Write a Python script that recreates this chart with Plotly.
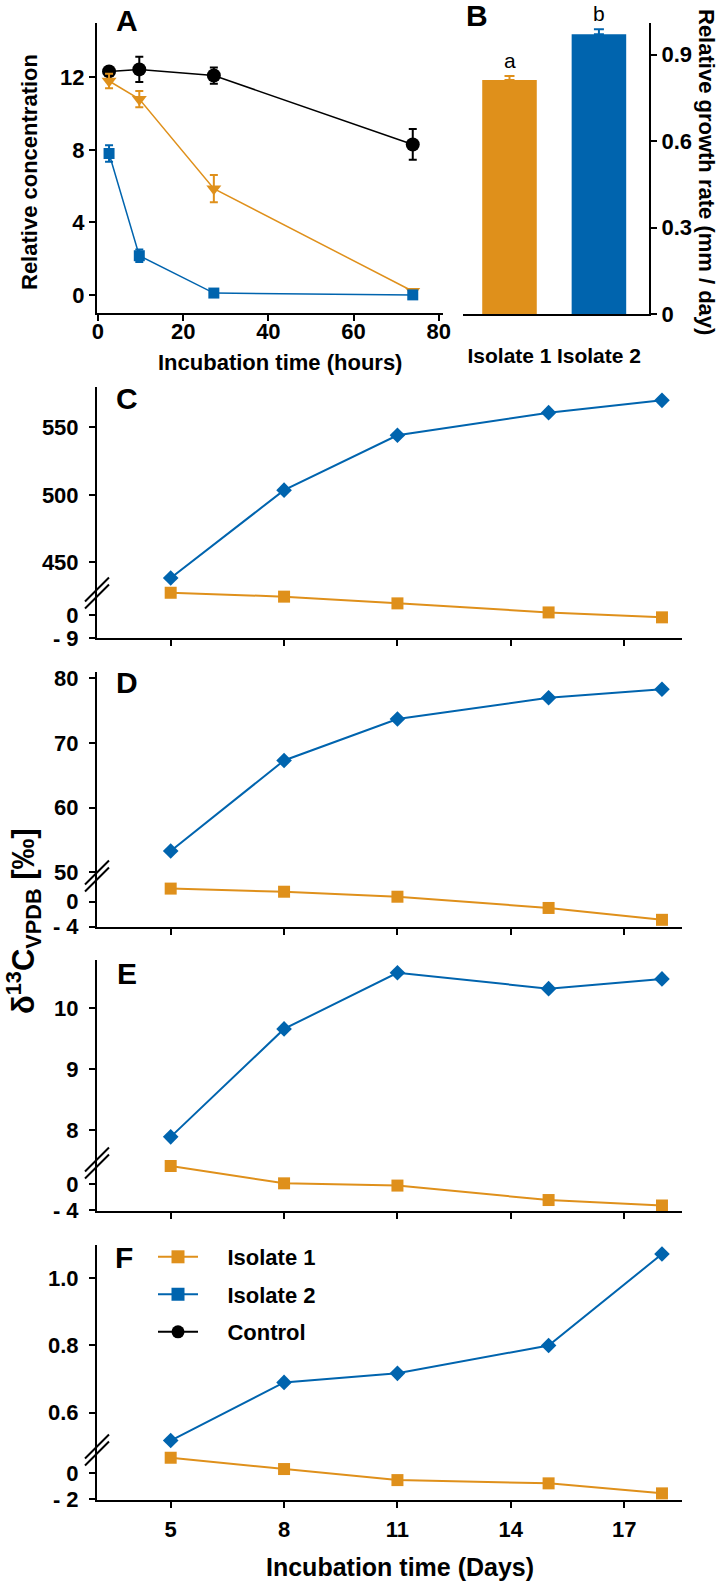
import plotly.graph_objects as go

# --- dades ---
hours = [2.6, 9.7, 27.2, 73.9]
control_a = [12.33, 12.44, 12.1, 8.3]
control_a_err = [0.1, 0.7, 0.45, 0.85]
iso1_a = [11.8, 10.8, 5.86, 0.2]
iso1_a_err = [0.4, 0.45, 0.75, 0.1]
iso2_a = [7.8, 2.16, 0.1, 0.0]
iso2_a_err = [0.45, 0.35, 0.1, 0.1]

isolates = ["Isolate 1", "Isolate 2"]
growth = [0.812, 0.971]
growth_err = [0.014, 0.017]
growth_letters = ["a", "b"]

days = [5, 8, 11, 15, 18]
iso2_c = [438.4, 503.5, 544.1, 560.9, 570.0]
iso1_c = [8.6, 7.1, 4.5, 1.0, -0.9]
iso2_d = [53.3, 67.3, 73.7, 77.0, 78.3]
iso1_d = [2.1, 1.6, 0.8, -1.0, -2.9]
iso2_e = [7.89, 9.66, 10.58, 10.32, 10.48]
iso1_e = [2.85, 0.15, -0.2, -2.45, -3.3]
iso2_f = [0.517, 0.690, 0.717, 0.800, 1.072]
iso1_f = [1.2, 0.33, -0.52, -0.77, -1.54]

ORANGE = "#DF901B"
BLUE = "#0064AE"
FONT = "Liberation Sans, Arial, sans-serif"
W, H = 718, 1584


def px(x):
    return x / W


def py(y):
    return 1 - y / H


tickfont = dict(size=22, family=FONT, color="black", weight="bold")
axis_style = dict(showline=True, linecolor="black", linewidth=2, ticks="outside",
                  ticklen=6, tickwidth=2, tickcolor="black", showgrid=False,
                  zeroline=False, tickfont=tickfont, automargin=False)

fig = go.Figure()

# --- panell A ---
for y, e, col, sym, size in [(control_a, control_a_err, "black", "circle", 14),
                             (iso1_a, iso1_a_err, ORANGE, "triangle-down", 13),
                             (iso2_a, iso2_a_err, BLUE, "square", 11)]:
    fig.add_trace(go.Scatter(
        x=hours, y=y, mode="lines+markers", showlegend=False,
        line=dict(color=col, width=1.5),
        marker=dict(color=col, symbol=sym, size=size),
        error_y=dict(type="data", array=e, color=col, thickness=2, width=4),
        xaxis="x", yaxis="y", cliponaxis=False))

# --- panell B ---
for cat, val, err, col in zip(isolates, growth, growth_err, [ORANGE, BLUE]):
    fig.add_trace(go.Bar(
        x=[cat], y=[val], marker=dict(color=col, line=dict(width=0)),
        width=0.61, showlegend=False, xaxis="x2", yaxis="y2",
        error_y=dict(type="data", array=[err], arrayminus=[0], symmetric=False,
                     color=col, thickness=2, width=5)))

# --- panells C-F (eix trencat) ---
panels = [(iso2_c, iso1_c), (iso2_d, iso1_d), (iso2_e, iso1_e), (iso2_f, iso1_f)]
for i, (hi, lo) in enumerate(panels):
    xa = "x%d" % (i + 3)
    y_lo = "y%d" % (2 * i + 3)
    y_hi = "y%d" % (2 * i + 4)
    fig.add_trace(go.Scatter(x=days, y=hi, mode="lines+markers", showlegend=False,
                             line=dict(color=BLUE, width=2),
                             marker=dict(color=BLUE, symbol="diamond", size=12),
                             xaxis=xa, yaxis=y_hi, cliponaxis=False))
    fig.add_trace(go.Scatter(x=days, y=lo, mode="lines+markers", showlegend=False,
                             line=dict(color=ORANGE, width=2),
                             marker=dict(color=ORANGE, symbol="square", size=12),
                             xaxis=xa, yaxis=y_lo, cliponaxis=False))

# llegenda (panell F)
leg_items = [("Isolate 1", ORANGE, "square", "legend"),
             ("Isolate 2", BLUE, "square", "legend2"),
             ("Control", "black", "circle", "legend3")]
for name, col, sym, leg in leg_items:
    fig.add_trace(go.Scatter(x=[None], y=[None], mode="lines+markers",
                             name="\u00a0\u00a0\u00a0\u00a0" + name,
                             line=dict(color=col, width=2),
                             marker=dict(color=col, symbol=sym, size=13),
                             xaxis="x6", yaxis="y10", legend=leg))

layout = dict(
    width=W, height=H, margin=dict(l=0, r=0, t=0, b=0),
    paper_bgcolor="white", plot_bgcolor="rgba(0,0,0,0)",
    font=dict(family=FONT, color="black"),
    barmode="overlay",
    xaxis=dict(domain=[px(97), px(443)], range=[-0.23, 81], anchor="y",
               tickvals=[0, 20, 40, 60, 80], ticklabelstandoff=-8, **axis_style),
    yaxis=dict(domain=[py(313), py(23)], range=[-1, 15], anchor="x",
               tickvals=[0, 4, 8, 12], **axis_style),
    xaxis2=dict(domain=[px(463), px(649)], range=[-0.52, 1.56], anchor="y2",
                type="category", showline=True, linecolor="black", linewidth=2,
                ticks="", showgrid=False, ticklabelstandoff=22, tickangle=0,
                automargin=False,
                tickfont=dict(size=21, family=FONT, color="black", weight="bold")),
    yaxis2=dict(domain=[py(314), py(23)], range=[0, 1.01], anchor="x2", side="right",
                tickvals=[0, 0.3, 0.6, 0.9], ticktext=["0", "0.3", "0.6", "0.9"],
                **axis_style),
)

# posicions dels panells C-F: (y eix x, [domini inferior], [domini superior], rang inf, rang sup, ticks)
specs = [
    (638.3, (585, 638.3), (387, 600), [-9, 11.6], [422.1, 579.9],
     [-9, 0], ["- 9", "0"], [450, 500, 550]),
    (927, (868, 927), (671.7, 884), [-4.05, 5.4], [48.2, 81.02],
     [-4, 0], ["- 4", "0"], [50, 60, 70, 80]),
    (1210.7, (1155, 1210.7), (960, 1171), [-4.11, 4.56], [7.33, 10.79],
     [-4, 0], ["- 4", "0"], [8, 9, 10]),
    (1500, (1442, 1500), (1245, 1458), [-2.05, 2.41], [0.465, 1.099],
     [-2, 0], ["- 2", "0"], [0.6, 0.8, 1.0]),
]
for i, (xb, lo_dom, hi_dom, lo_rng, hi_rng, lo_tv, lo_tt, hi_tv) in enumerate(specs):
    n = i + 3
    layout["xaxis%d" % n] = dict(domain=[px(97), px(682)], range=[3.05, 18.53],
                                anchor="y%d" % (2 * i + 3), tickvals=[5, 8, 11, 14, 17],
                                showticklabels=(i == 3), ticklabelstandoff=3, **axis_style)
    layout["yaxis%d" % (2 * i + 3)] = dict(domain=[py(lo_dom[1]), py(lo_dom[0])],
                                          range=lo_rng, anchor="x%d" % n,
                                          tickvals=lo_tv, ticktext=lo_tt,
                                          ticklabelstandoff=6, **axis_style)
    hi_tt = ["%.1f" % v for v in hi_tv] if i == 3 else [str(v) for v in hi_tv]
    layout["yaxis%d" % (2 * i + 4)] = dict(domain=[py(hi_dom[1]), py(hi_dom[0])],
                                          range=hi_rng, anchor="x%d" % n,
                                          tickvals=hi_tv, ticktext=hi_tt,
                                          ticklabelstandoff=6, **axis_style)

legfont = dict(size=22, family=FONT, color="black", weight="bold")
for j, leg in enumerate(["legend", "legend2", "legend3"]):
    layout[leg] = dict(x=px(153), y=py(1257 + 37.5 * j), xanchor="left", yanchor="middle",
                       bgcolor="rgba(0,0,0,0)", font=legfont, itemwidth=40)

# marques de trencament
shapes = []
for yc in [593, 876, 1163, 1450]:
    for dy in (-3.5, 3.5):
        shapes.append(dict(type="line", xref="paper", yref="paper",
                           x0=px(85), y0=py(yc + dy + 12), x1=px(109), y1=py(yc + dy - 12),
                           line=dict(color="black", width=2)))
layout["shapes"] = shapes

ann = []
for letter, x, y in [("A", 127, 20), ("B", 477, 15), ("C", 127, 398), ("D", 127, 682),
                     ("E", 127, 973), ("F", 124, 1257)]:
    ann.append(dict(text=letter, x=px(x), y=py(y), xref="paper", yref="paper",
                    xanchor="center", yanchor="middle",
                    showarrow=False, font=dict(size=30, family=FONT, weight="bold")))
titles = [
    ("Incubation time (hours)", 280, 362, 0, 22),
    ("Relative concentration", 30, 172, -90, 22),
    ("Relative growth rate (mm / day)", 706, 172, 90, 22),
    ("Incubation time (Days)", 400, 1567, 0, 25),
    ("δ<sup>13</sup>C<sub>VPDB</sub> [‰]", 23, 921, -90, 31),
]
for text, x, y, ang, size in titles:
    ann.append(dict(text=text, x=px(x), y=py(y), xref="paper", yref="paper",
                    xanchor="center", yanchor="middle",
                    showarrow=False, textangle=ang,
                    font=dict(size=size, family=FONT, weight="bold")))
for cat, val, err, lab in zip(isolates, growth, growth_err, growth_letters):
    ann.append(dict(text=lab, x=cat, y=val + err, xref="x2", yref="y2", yanchor="bottom",
                    xanchor="center", yshift=2, showarrow=False,
                    font=dict(size=21, family=FONT)))
layout["annotations"] = ann

fig.update_layout(layout)

# la pàgina no ha de tenir marge: la figura ocupa tota la finestra
fig.write_html("out.html", config={"displayModeBar": False},
               post_script="document.body.style.margin = '0';")
